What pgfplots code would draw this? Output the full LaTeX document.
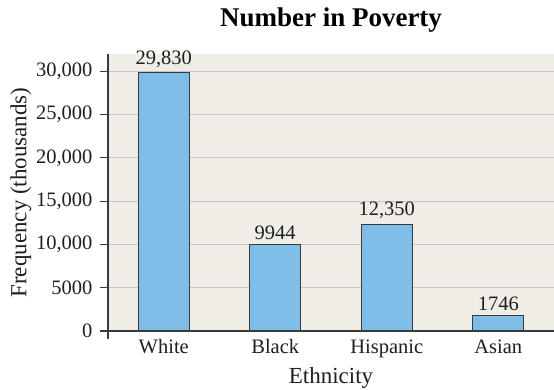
\documentclass[border=0pt]{standalone}
\usepackage{fontspec}
\setmainfont{Liberation Serif}
\usepackage{pgfplots}
\pgfplotsset{compat=1.18}
\definecolor{bg}{HTML}{F0EDE7}
\definecolor{barblue}{HTML}{7DBDE8}
\definecolor{axisgray}{HTML}{3A3A3A}
\definecolor{gridgray}{HTML}{C6C6C6}
\begin{document}
\begin{tikzpicture}
\begin{axis}[
  scale only axis, width=446pt, height=277pt,
  xmin=-0.5, xmax=3.5, ymin=0, ymax=32000,
  axis background/.style={fill=bg},
  axis x line*=bottom, axis y line*=left,
  axis line style={axisgray, line width=1.1pt},
  y axis line style={shorten <=-8pt},
  ytick={0,5000,10000,15000,20000,25000,30000},
  yticklabels={\mbox{0},\mbox{5000},\mbox{10,000},\mbox{15,000},\mbox{20,000},\mbox{25,000},\mbox{30,000}},
  scaled y ticks=false,
  ymajorgrids, grid style={gridgray, line width=1pt},
  tick align=outside, major tick length=8pt,
  ytick style={axisgray, line width=1.1pt},
  xtick={0,1,2,3}, xticklabels={White,Black,Hispanic,Asian},
  xtick style={draw=none},
  /pgf/number format/assume math mode=true,
  tick label style={font=\fontsize{20.5}{24}\selectfont, text=black!88},
  yticklabel style={xshift=-4pt},
  xticklabel style={yshift=3pt},
  xlabel={Ethnicity}, ylabel={Frequency (thousands)},
  label style={font=\fontsize{23}{27}\selectfont, text=black!88},
  xlabel style={yshift=-3pt},
  ylabel style={yshift=-2pt},
  title={Number in Poverty},
  title style={font=\fontsize{27}{32}\selectfont\bfseries, yshift=12pt},
  ybar, bar width=51pt,
  nodes near coords, point meta=explicit symbolic,
  nodes near coords style={font=\fontsize{20.5}{24}\selectfont, text=black!88, inner sep=2pt, yshift=3pt},
]
\addplot[fill=barblue, draw=axisgray, line width=1.1pt] table[meta=lab] {
x y lab
0 29830 {29,830}
1 9944 9944
2 12350 {12,350}
3 1746 1746
};
\coordinate (bl) at (rel axis cs:0,0);
\coordinate (tr) at (rel axis cs:1,1);
\end{axis}
\pgfresetboundingbox
\path ([shift={(-108pt,-59pt)}]bl) rectangle ([shift={(0pt,54pt)}]tr);
\end{tikzpicture}
\end{document}
